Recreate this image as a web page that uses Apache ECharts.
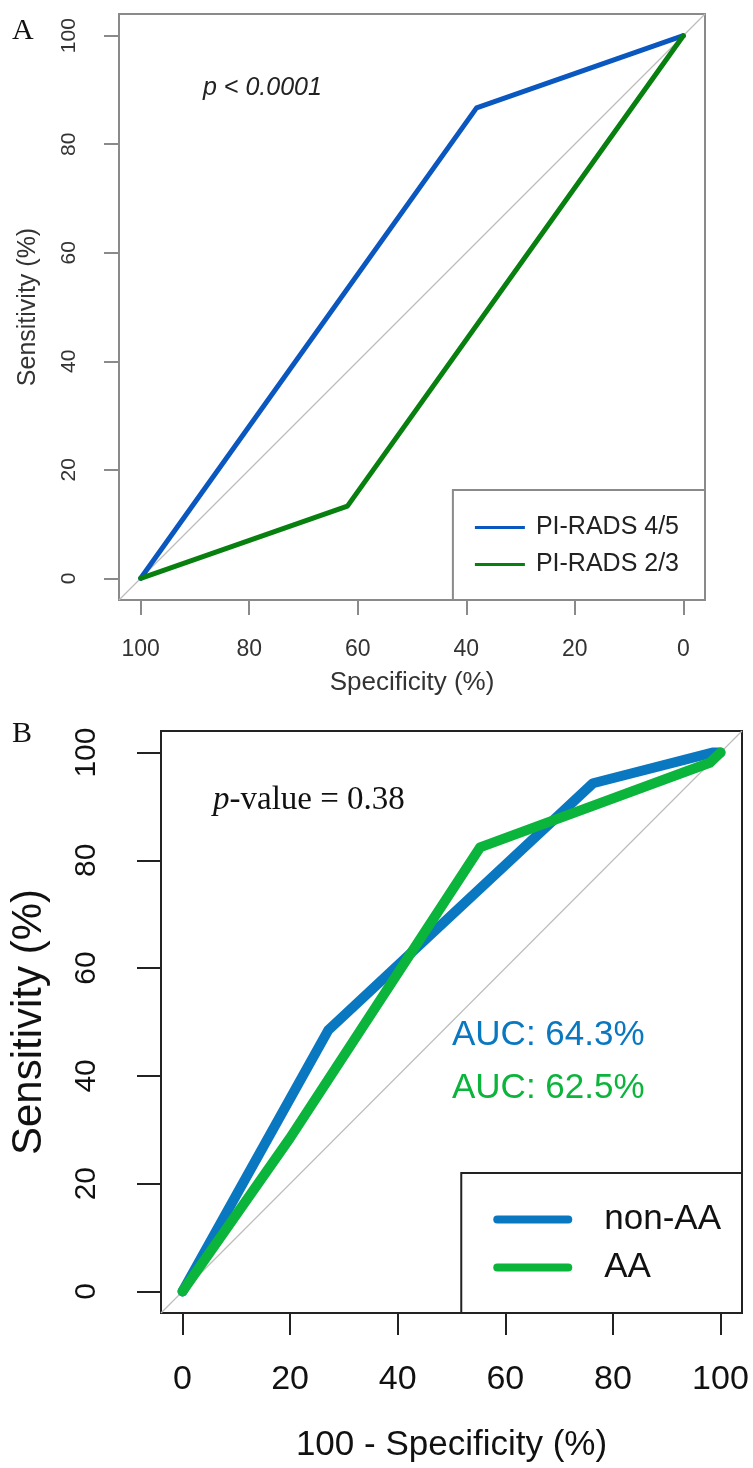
<!DOCTYPE html>
<html>
<head>
<meta charset="utf-8">
<script src="https://cdn.jsdelivr.net/npm/echarts@6/dist/echarts.min.js"></script>
<style>
html,body{margin:0;padding:0;background:#fff;}
#c{width:753px;height:1468px;}
</style>
</head>
<body>
<div id="c"></div>
<script>
// ---- Panel A data (Specificity %, Sensitivity %) ----
const specA45 = [100, 38.1, 0];
const sensA45 = [0, 86.7, 100];
const specA23 = [100, 61.9, 0];
const sensA23 = [0, 13.3, 100];
const tickValues = [0, 20, 40, 60, 80, 100];
const axisMin = -4, axisMax = 104;

// ---- Panel B data (100 - Specificity %, Sensitivity %) ----
const fprNonAA = [0, 27.1, 76.3, 98.5, 100];
const tprNonAA = [0, 48.5, 94.3, 100, 100];
const fprAA = [0, 20, 55.3, 98, 100];
const tprAA = [0, 28.5, 82.4, 98.1, 100];

const namesA = ['PI-RADS 4/5', 'PI-RADS 2/3'];
const namesB = ['non-AA', 'AA'];
const aucLabels = ['AUC: 64.3%', 'AUC: 62.5%'];

const zip = (xs, ys) => xs.map((x, i) => [x, ys[i]]);

const blueA = '#0b57c0', greenA = '#07800f';
const blueB = '#0a78c0', greenB = '#0bb43a';

const chart = echarts.init(document.getElementById('c'), null, {renderer: 'canvas'});

const sans = 'Liberation Sans, Arial, sans-serif';
const serif = 'Liberation Serif, Times New Roman, serif';

const option = {
  animation: false,
  backgroundColor: '#fff',
  grid: [
    {left: 119, top: 14, width: 586, height: 586, show: true, borderColor: '#8a8a8a', borderWidth: 2, containLabel: false},
    {left: 161, top: 731, width: 581, height: 582, show: true, borderColor: '#222', borderWidth: 2, containLabel: false}
  ],
  xAxis: [
    {
      type: 'value', gridIndex: 0, min: axisMin, max: axisMax, inverse: true, position: 'bottom',
      name: 'Specificity (%)', nameLocation: 'middle', nameGap: 70,
      nameTextStyle: {fontFamily: sans, fontSize: 26, color: '#333'},
      axisLine: {show: false, onZero: false}, splitLine: {show: false},
      axisTick: {show: true, inside: false, length: 15, customValues: tickValues, lineStyle: {color: '#8a8a8a', width: 2}},
      axisLabel: {customValues: tickValues, margin: 38, fontFamily: sans, fontSize: 23, color: '#333'}
    },
    {
      type: 'value', gridIndex: 1, min: axisMin, max: axisMax, position: 'bottom',
      name: '100 - Specificity (%)', nameLocation: 'middle', nameGap: 115,
      nameTextStyle: {fontFamily: sans, fontSize: 35, color: '#111'},
      axisLine: {show: false, onZero: false}, splitLine: {show: false},
      axisTick: {show: true, inside: false, length: 22, customValues: tickValues, lineStyle: {color: '#222', width: 2}},
      axisLabel: {customValues: tickValues, margin: 50, fontFamily: sans, fontSize: 34, color: '#111'}
    }
  ],
  yAxis: [
    {
      type: 'value', gridIndex: 0, min: axisMin, max: axisMax, position: 'left',
      name: 'Sensitivity (%)', nameLocation: 'middle', nameGap: 78,
      nameTextStyle: {fontFamily: sans, fontSize: 25, color: '#333'},
      axisLine: {show: false, onZero: false}, splitLine: {show: false},
      axisTick: {show: true, inside: false, length: 15, customValues: tickValues, lineStyle: {color: '#8a8a8a', width: 2}},
      axisLabel: {customValues: tickValues, rotate: 90, margin: 39, fontFamily: sans, fontSize: 21, color: '#333'}
    },
    {
      type: 'value', gridIndex: 1, min: axisMin, max: axisMax, position: 'left',
      name: 'Sensitivity (%)', nameLocation: 'middle', nameGap: 111,
      nameTextStyle: {fontFamily: sans, fontSize: 42, color: '#111'},
      axisLine: {show: false, onZero: false}, splitLine: {show: false},
      axisTick: {show: true, inside: false, length: 24, customValues: tickValues, lineStyle: {color: '#222', width: 2}},
      axisLabel: {customValues: tickValues, rotate: 90, margin: 59, fontFamily: sans, fontSize: 30, color: '#111'}
    }
  ],
  legend: [
    {
      data: namesA, orient: 'vertical', right: 753 - 705, bottom: 1468 - 600,
      padding: [25, 26, 23, 22], itemGap: 12, itemWidth: 50, itemHeight: 3,
      icon: 'rect', borderColor: '#8a8a8a', borderWidth: 2, backgroundColor: '#fff',
      textStyle: {fontFamily: sans, fontSize: 25, color: '#222', padding: [0, 0, 0, 6]}
    },
    {
      data: namesB, orient: 'vertical', right: 753 - 742, bottom: 1468 - 1313,
      padding: [29, 21, 28, 32], itemGap: 13, itemWidth: 79, itemHeight: 8,
      icon: 'path://M4,0H75A4,4,0,0,1,75,8H4A4,4,0,0,1,4,0Z', borderColor: '#222', borderWidth: 2, backgroundColor: '#fff',
      textStyle: {fontFamily: sans, fontSize: 35, color: '#111', padding: [0, 0, 0, 27]}
    }
  ],
  series: [
    {type: 'line', name: 'diagA', xAxisIndex: 0, yAxisIndex: 0, data: [[axisMax, axisMin], [axisMin, axisMax]],
      symbol: 'none', silent: true, lineStyle: {color: '#bdbdbd', width: 1.2}, z: 1},
    {type: 'line', name: namesA[0], xAxisIndex: 0, yAxisIndex: 0, data: zip(specA45, sensA45),
      symbol: 'none', color: blueA, lineStyle: {color: blueA, width: 5, cap: 'round', join: 'round'}, z: 3},
    {type: 'line', name: namesA[1], xAxisIndex: 0, yAxisIndex: 0, data: zip(specA23, sensA23),
      symbol: 'none', color: greenA, lineStyle: {color: greenA, width: 5, cap: 'round', join: 'round'}, z: 4},
    {type: 'line', name: 'diagB', xAxisIndex: 1, yAxisIndex: 1, data: [[axisMin, axisMin], [axisMax, axisMax]],
      symbol: 'none', silent: true, lineStyle: {color: '#bdbdbd', width: 1.2}, z: 1},
    {type: 'line', name: namesB[0], xAxisIndex: 1, yAxisIndex: 1, data: zip(fprNonAA, tprNonAA),
      symbol: 'none', color: blueB, lineStyle: {color: blueB, width: 10, cap: 'round', join: 'round'}, z: 3},
    {type: 'line', name: namesB[1], xAxisIndex: 1, yAxisIndex: 1, data: zip(fprAA, tprAA),
      symbol: 'none', color: greenB, lineStyle: {color: greenB, width: 10, cap: 'round', join: 'round'}, z: 4}
  ],
  graphic: [
    {type: 'text', x: 12, y: 31, style: {text: 'A', font: '30px ' + serif, fill: '#111', textAlign: 'left', verticalAlign: 'middle'}},
    {type: 'text', x: 12, y: 734, style: {text: 'B', font: '30px ' + serif, fill: '#111', textAlign: 'left', verticalAlign: 'middle'}},
    {type: 'text', x: 203, y: 88, style: {text: 'p < 0.0001', font: 'italic 25px ' + sans, fill: '#222', textAlign: 'left', verticalAlign: 'middle'}},
    {type: 'text', x: 213, y: 800, style: {
      text: '{i|p}-value = 0.38', font: '33px ' + serif, fill: '#111', textAlign: 'left', verticalAlign: 'middle',
      rich: {i: {fontStyle: 'italic', fontFamily: serif, fontSize: 33, fill: '#111'}}}},
    {type: 'text', x: 452, y: 1035, style: {text: aucLabels[0], font: '35px ' + sans, fill: blueB, textAlign: 'left', verticalAlign: 'middle'}},
    {type: 'text', x: 452, y: 1088, style: {text: aucLabels[1], font: '35px ' + sans, fill: greenB, textAlign: 'left', verticalAlign: 'middle'}}
  ]
};
chart.setOption(option);
</script>
</body>
</html>
